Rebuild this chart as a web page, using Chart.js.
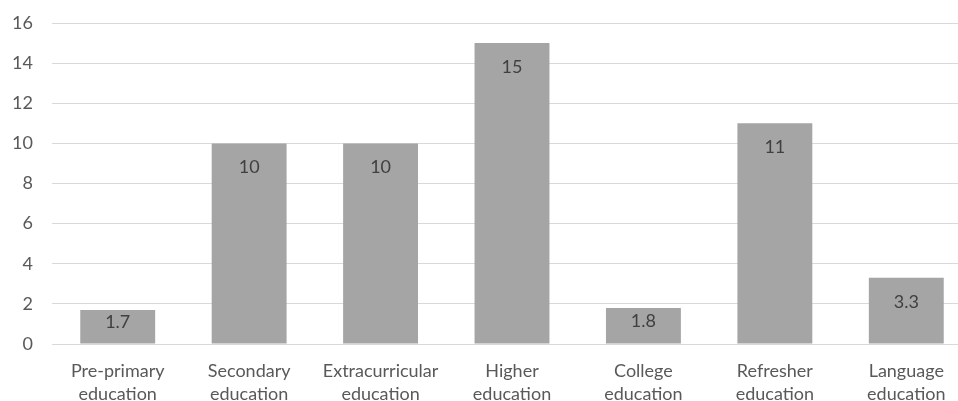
<!DOCTYPE html>
<html>
<head>
<meta charset="utf-8">
<script src="https://cdn.jsdelivr.net/npm/chart.js@4.4.1/dist/chart.umd.min.js"></script>
<style>
  html, body { margin: 0; padding: 0; background: #ffffff; overflow: hidden; }
  #wrap { width: 972px; height: 401px; position: relative; }
</style>
</head>
<body>
<div id="wrap"><canvas id="chart" width="972" height="401"></canvas></div>
<script>
// Education categories (two-line labels) and their values
const categories = [
  ["Pre-primary", "education"],
  ["Secondary", "education"],
  ["Extracurricular", "education"],
  ["Higher", "education"],
  ["College", "education"],
  ["Refresher", "education"],
  ["Language", "education"]
];
const values = [1.7, 10, 10, 15, 1.8, 11, 3.3];
const valueLabels = ["1.7", "10", "10", "15", "1.8", "11", "3.3"];
const yTicks = [0, 2, 4, 6, 8, 10, 12, 14, 16];

const FONT = "Lato, 'Open Sans', sans-serif";

// Writes each bar's value just inside its top edge (nudged down less on short bars)
const insideTopLabels = {
  id: "insideTopLabels",
  afterDatasetsDraw(chart) {
    const ctx = chart.ctx;
    const meta = chart.getDatasetMeta(0);
    ctx.save();
    ctx.font = "18px " + FONT;
    ctx.fillStyle = "#404040";
    ctx.textAlign = "center";
    ctx.textBaseline = "middle";
    meta.data.forEach((bar, i) => {
      const h = bar.base - bar.y;
      const offset = Math.min(24, h / 2 - 5);
      ctx.fillText(valueLabels[i], bar.x, bar.y + offset);
    });
    ctx.restore();
  }
};

new Chart(document.getElementById("chart"), {
  type: "bar",
  data: {
    labels: categories,
    datasets: [{
      data: values,
      backgroundColor: "#a5a5a5",
      borderWidth: 0,
      categoryPercentage: 1.0,
      barPercentage: 0.57
    }]
  },
  options: {
    responsive: false,
    animation: false,
    layout: { padding: { top: 23, right: 0, bottom: 0, left: 0 } },
    plugins: {
      legend: { display: false },
      tooltip: { enabled: false }
    },
    scales: {
      x: {
        afterFit(scale) { scale.height = 57; },
        grid: { display: false, drawTicks: false },
        border: { display: true, color: "#d9d9d9", width: 1 },
        ticks: {
          color: "#595959",
          font: { family: FONT, size: 18, lineHeight: 1.27 },
          padding: 16,
          maxRotation: 0,
          autoSkip: false
        }
      },
      y: {
        min: 0,
        max: 16,
        afterFit(scale) {
          scale.width = 52;
          scale.paddingTop = 0;
          scale.paddingBottom = 0;
        },
        afterBuildTicks(scale) { scale.ticks = yTicks.map(v => ({ value: v })); },
        grid: { color: "#d9d9d9", lineWidth: 1, drawTicks: false },
        border: { display: false },
        ticks: {
          color: "#595959",
          font: { family: FONT, size: 18 },
          padding: 19
        }
      }
    }
  },
  plugins: [insideTopLabels]
});
</script>
</body>
</html>
